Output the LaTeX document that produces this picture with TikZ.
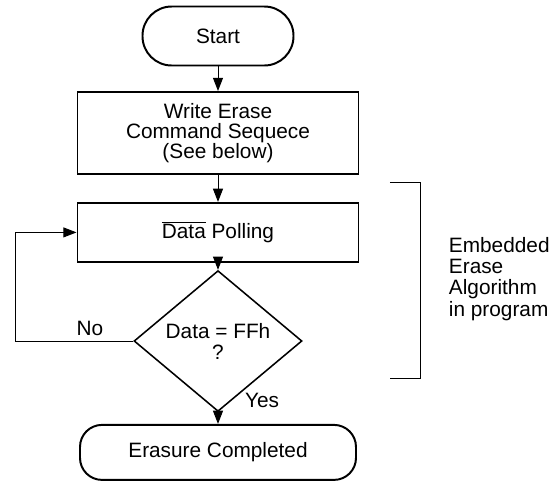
\documentclass[tikz,border=0pt]{standalone}
\usepackage{fontspec}
\setmainfont{Liberation Sans}
\usetikzlibrary{shapes, arrows.meta, positioning, calc}

\begin{document}
\begin{tikzpicture}[
  every node/.style={font=\fontsize{14.8}{15}\selectfont},
  termbox/.style={draw, line width=1.4pt, align=center, inner sep=0pt},
  procbox/.style={draw, line width=1.4pt, minimum width=7.025cm, align=center, inner sep=0pt},
  testbox/.style={draw, diamond, line width=1.1pt, minimum width=4.2cm, minimum height=2.45cm, align=center, inner sep=0pt},
  flow/.style={line width=0.7pt, -{Triangle[width=0.25cm, length=0.33cm]}},
  link/.style={line width=0.7pt}
]
  \useasboundingbox (0,0) rectangle (13.725,-12.025);

  \node[termbox, minimum width=3.775cm, minimum height=1.475cm, rounded corners=0.73cm] (start) at (5.45,-0.9) {Start};
  \node[procbox, minimum height=2.05cm] (write) at (5.45,-3.325) {Write Erase\\[-1pt]Command Sequece\\[-1pt](See below)};
  \node[procbox, minimum height=1.475cm] (poll) at (5.45,-5.81) {$\overline{\mbox{Data}}$ Polling};
  \node[testbox] (check) at (5.45,-8.525) {Data = FFh\\?};
  \node[termbox, minimum width=6.9cm, minimum height=1.375cm, rounded corners=0.55cm] (done) at (5.45,-11.31) {Erasure Completed};

  \draw[flow] (start) -- (write);
  \draw[flow] (write) -- (poll);
  \draw[flow] (poll) -- (check);
  \draw[flow] (check) -- (done);

  % retry loop
  \coordinate (loop) at (0.375,-8.525);
  \draw[flow] (check.west) -- (loop) |- (poll.west);
  \node (no) at (2.25,-8.2) {No};
  \node (yes) at (6.55,-10.0) {Yes};

  % bracket
  \coordinate (brtop) at (9.75,-4.55);
  \coordinate (brbot) at (9.75,-9.45);
  \draw[link] (brtop) -- ++(0.75,0) |- (brbot);
  \node[anchor=west, align=left] (algo) at (11.1,-6.975) {Embedded\\Erase\\Algorithm\\in program};
\end{tikzpicture}
\end{document}
